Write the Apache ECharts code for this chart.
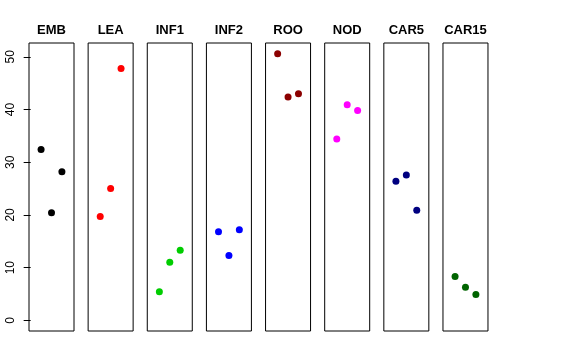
<!DOCTYPE html>
<html><head><meta charset="utf-8">
<script src="https://cdn.jsdelivr.net/npm/echarts@6/dist/echarts.min.js"></script>
<style>html,body{margin:0;padding:0;background:#fff}#c{width:576px;height:360px}</style>
</head><body><div id="c"></div>
<script>
const categories = ["EMB","LEA","INF1","INF2","ROO","NOD","CAR5","CAR15"];
const xPositions = [1,2,3];
const EMB = [32.4, 20.4, 28.2];
const LEA = [19.7, 25.0, 47.8];
const INF1 = [5.4, 11.0, 13.3];
const INF2 = [16.8, 12.3, 17.2];
const ROO = [50.6, 42.4, 43.0];
const NOD = [34.4, 40.9, 39.8];
const CAR5 = [26.4, 27.6, 20.9];
const CAR15 = [8.3, 6.3, 4.9];
const seriesValues = [EMB, LEA, INF1, INF2, ROO, NOD, CAR5, CAR15];
const colors = ["#000000","#FF0000","#00CD00","#0000FF","#8B0000","#FF00FF","#000080","#006400"];
const yTicks = [0,10,20,30,40,50];

const yMax = 50.6, yMin = 0;
const yr = yMax - yMin;
const yLo = yMin - 0.04*yr, yHi = yMax + 0.04*yr;
const xLo = 0 - 0.04*4, xHi = 4 + 0.04*4;

const grids = [], xAxes = [], yAxes = [], series = [];
categories.forEach((cat, i) => {
  grids.push({left: 29 + i*59.14, top: 43, width: 45, height: 288,
    show: true, borderColor: '#000', borderWidth: 1, backgroundColor: 'transparent'});
  xAxes.push({gridIndex: i, type: 'value', min: xLo, max: xHi, position: 'top',
    axisLine: {show: false}, axisTick: {show: false}, axisLabel: {show: false}, splitLine: {show: false},
    name: cat, nameLocation: 'middle', nameGap: 6,
    nameTextStyle: {fontFamily: 'Liberation Sans, Arial, sans-serif', fontWeight: 'bold', fontSize: 13, color: '#000'}});
  const first = i === 0;
  yAxes.push({gridIndex: i, type: 'value', min: yLo, max: yHi,
    axisLine: {show: false},
    axisTick: {show: first, length: 7, lineStyle: {color: '#000'}, customValues: yTicks},
    axisLabel: {show: first, rotate: 90, margin: 12, fontSize: 12, color: '#000',
      fontFamily: 'Liberation Sans, Arial, sans-serif', customValues: yTicks},
    splitLine: {show: false}});
  series.push({type: 'scatter', xAxisIndex: i, yAxisIndex: i,
    data: xPositions.map((x, j) => [x, seriesValues[i][j]]),
    symbol: 'circle', symbolSize: 7, itemStyle: {color: colors[i], opacity: 1}, silent: true});
});

const chart = echarts.init(document.getElementById('c'), null, {renderer: 'canvas'});
chart.setOption({animation: false, backgroundColor: '#fff', grid: grids, xAxis: xAxes, yAxis: yAxes, series});
</script></body></html>
